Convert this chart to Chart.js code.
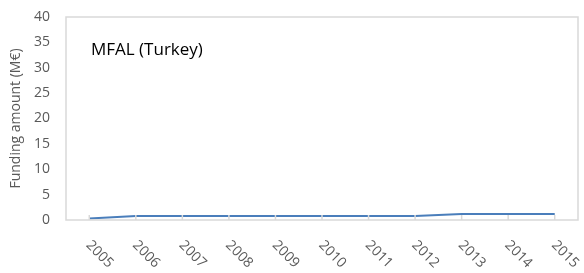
<!DOCTYPE html>
<html>
<head>
<meta charset="utf-8">
<script src="https://cdn.jsdelivr.net/npm/chart.js@4"></script>
<style>
html,body{margin:0;padding:0;background:#fff;}
#wrap{width:584px;height:273px;position:relative;}
</style>
</head>
<body>
<div id="wrap"><canvas id="c" width="584" height="273"></canvas></div>
<script>
const years = ['2005','2006','2007','2008','2009','2010','2011','2012','2013','2014','2015'];
const funding = [0.3, 0.8, 0.8, 0.8, 0.8, 0.8, 0.8, 0.8, 1.2, 1.2, 1.2];
const yTicks = [0, 5, 10, 15, 20, 25, 30, 35, 40];
const chartTitle = 'MFAL (Turkey)';
const yTitle = 'Funding amount (M€)';

const FONT = '"Open Sans", sans-serif';
const GRAY = '#595959';
const BORDER = '#d9d9d9';

const decor = {
  id: 'decor',
  afterDatasetsDraw(chart) {
    const ctx = chart.ctx;
    const a = chart.chartArea;
    const x = chart.scales.x;
    ctx.save();
    ctx.strokeStyle = BORDER;
    ctx.lineWidth = 1.5;
    ctx.strokeRect(a.left, a.top, a.right - a.left, a.bottom - a.top);
    years.forEach((y, i) => {
      const px = x.getPixelForValue(i);
      ctx.beginPath();
      ctx.moveTo(px, a.bottom);
      ctx.lineTo(px, a.bottom - 5);
      ctx.stroke();
    });
    ctx.fillStyle = GRAY;
    ctx.font = '14px ' + FONT;
    ctx.textAlign = 'left';
    ctx.textBaseline = 'middle';
    years.forEach((y, i) => {
      const px = x.getPixelForValue(i);
      ctx.save();
      ctx.translate(px - 1, a.bottom + 23);
      ctx.rotate(Math.PI / 4);
      ctx.fillText(y, 0, 0);
      ctx.restore();
    });
    ctx.fillStyle = '#000';
    ctx.font = '17px ' + FONT;
    ctx.textAlign = 'left';
    ctx.textBaseline = 'middle';
    ctx.fillText(chartTitle, a.left + 25, a.top + 33);
    ctx.restore();
  }
};

new Chart(document.getElementById('c'), {
  type: 'line',
  data: {
    labels: years,
    datasets: [{
      data: funding,
      borderColor: '#4a7ebb',
      borderWidth: 2,
      pointRadius: 0,
      fill: false,
      tension: 0
    }]
  },
  options: {
    responsive: false,
    animation: false,
    devicePixelRatio: 1,
    layout: { padding: { top: 17, right: 6, left: 0, bottom: 0 } },
    plugins: { legend: { display: false }, tooltip: { enabled: false }, title: { display: false } },
    scales: {
      x: {
        type: 'category',
        offset: true,
        grid: { display: false },
        border: { display: false },
        ticks: { display: false },
        afterFit(s) { s.height = 53; }
      },
      y: {
        min: 0,
        max: 40,
        afterBuildTicks(s) { s.ticks = yTicks.map(v => ({ value: v })); },
        grid: { display: false },
        border: { display: false },
        ticks: { color: GRAY, font: { family: FONT, size: 14 }, padding: 8 },
        title: { display: true, text: yTitle, color: GRAY, font: { family: FONT, size: 14 }, padding: { top: 8, bottom: 0 } },
        afterFit(s) { s.width = 66; }
      }
    }
  },
  plugins: [decor]
});
</script>
</body>
</html>
